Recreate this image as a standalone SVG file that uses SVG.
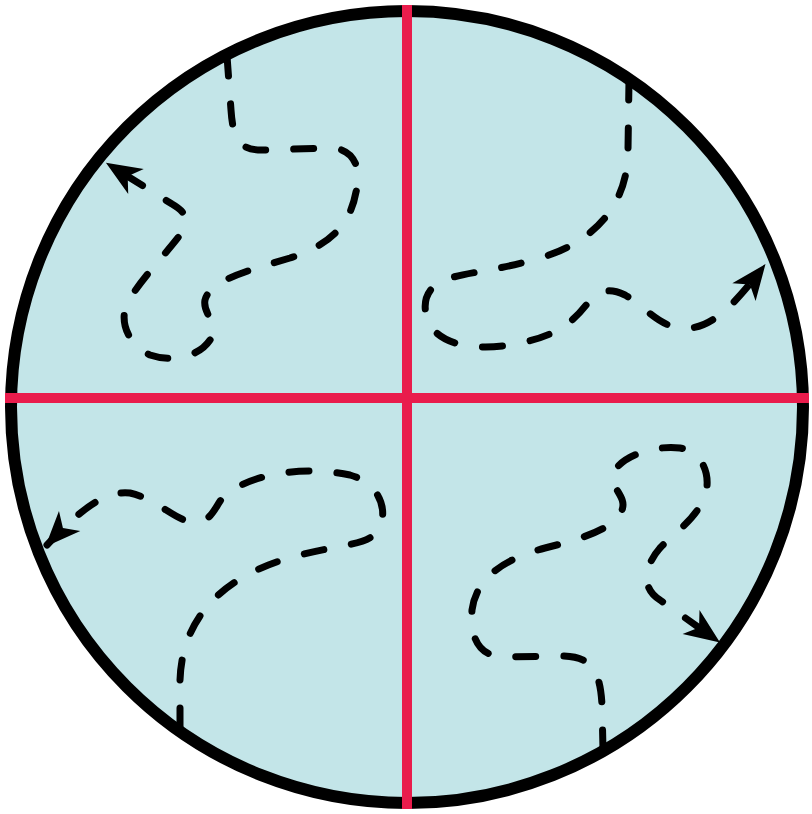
<svg xmlns="http://www.w3.org/2000/svg" width="812" height="814" viewBox="0 0 812 814">
<defs>
<style>
.path{fill:none;stroke:#000;stroke-width:7;stroke-linecap:round;stroke-dasharray:20 28;stroke-linejoin:round}
.divider{stroke:#e91c4c;stroke-width:10}
</style>
<marker id="arr" markerUnits="userSpaceOnUse" markerWidth="44" markerHeight="44" viewBox="-32 -16 36 32" refX="0" refY="0" orient="auto">
<path d="M2,0 L-27,-12 L-19,0 L-27,12 Z" fill="#000"/>
</marker>
</defs>
<rect width="812" height="814" fill="#fff"/>
<g id="circle">
<circle cx="407" cy="407" r="396" fill="#c3e5e8"/>
</g>
<g id="connectors">
<path class="path" marker-end="url(#arr)" d="M227,56 L231,110 C233,140 240,150 262,150 L330,148 C355,148 362,170 356,192 C350,225 330,245 290,258 C250,270 210,280 205,300 C202,315 222,325 210,340 C198,358 170,362 150,355 C128,345 118,320 128,302 C140,280 165,255 180,235 C190,220 186,212 172,204 L108,164"/>
<path class="path" marker-end="url(#arr)" d="M629,80 L628,150 C628,200 600,240 540,258 C500,270 470,272 450,278 C425,285 420,305 430,325 C445,350 490,350 520,343 C560,335 575,320 590,300 C600,290 610,288 625,295 C650,310 660,330 690,328 C715,326 738,300 764,266"/>
<path class="path" marker-end="url(#arr)" d="M180,728 L180,680 C182,620 220,575 300,555 C340,545 362,545 374,535 C390,520 385,485 350,475 C300,465 250,475 225,495 C215,505 213,522 195,522 C175,522 160,500 130,493 C105,490 80,510 47,545"/>
<path class="path" marker-end="url(#arr)" d="M603,750 L602,705 C600,668 590,656 560,656 L505,657 C480,657 470,640 472,610 C476,580 500,560 545,548 C585,538 615,528 622,510 C628,495 605,485 615,470 C625,455 655,445 680,448 C705,452 712,480 704,498 C695,520 675,532 660,548 C645,565 640,588 660,600 L718,641"/>
</g>
<g id="rim">
<circle cx="407" cy="407" r="396" fill="none" stroke="#000" stroke-width="12"/>
</g>
<g id="dividers">
<line class="divider" x1="407" y1="5" x2="407" y2="809"/>
<line class="divider" x1="5" y1="398" x2="809" y2="398"/>
</g>
</svg>
